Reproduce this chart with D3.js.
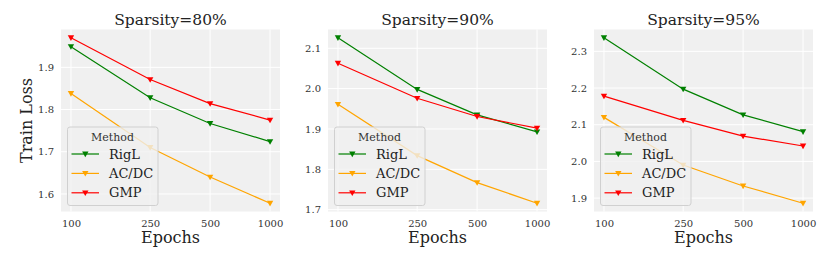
<!DOCTYPE html>
<html>
<head>
<meta charset="utf-8">
<script src="https://cdn.jsdelivr.net/npm/d3@7"></script>
<style>
  body { margin: 0; background: #fff; }
  text { font-family: "DejaVu Serif", serif; }
</style>
</head>
<body>
<svg width="830" height="260"></svg>
<script>
const epochs = [100, 250, 500, 1000];
const methods = ["RigL", "AC/DC", "GMP"];
const colors = { "RigL": "#008000", "AC/DC": "#ffa500", "GMP": "#ff0000" };

const titles = ["Sparsity=80%", "Sparsity=90%", "Sparsity=95%"];

// train loss per panel, per method
const loss80 = {
  "RigL": [1.949, 1.828, 1.767, 1.724],
  "AC/DC": [1.838, 1.710, 1.640, 1.578],
  "GMP": [1.970, 1.871, 1.814, 1.775]
};
const loss90 = {
  "RigL": [2.126, 1.998, 1.935, 1.893],
  "AC/DC": [1.961, 1.834, 1.767, 1.716],
  "GMP": [2.063, 1.976, 1.931, 1.902]
};
const loss95 = {
  "RigL": [2.337, 2.197, 2.127, 2.081],
  "AC/DC": [2.120, 1.990, 1.933, 1.886],
  "GMP": [2.178, 2.112, 2.069, 2.042]
};
const yTicks = [
  [1.6, 1.7, 1.8, 1.9],
  [1.7, 1.8, 1.9, 2.0, 2.1],
  [1.9, 2.0, 2.1, 2.2, 2.3]
];
const panels = [loss80, loss90, loss95];

const svg = d3.select("svg");
const lefts = [61, 328, 594];
const plotW = 219;
const plotTop = 29.5;
const plotH = 182;

const tri = "M-3.2,-2.4L3.2,-2.4L0,3.2Z";

panels.forEach((data, i) => {
  const g = svg.append("g").attr("transform", `translate(${lefts[i]},${plotTop})`);

  const x = d3.scaleLog()
    .domain([Math.pow(10, 1.95), Math.pow(10, 3.05)])
    .range([0, plotW]);

  const all = methods.flatMap((m) => data[m]);
  const [lo, hi] = d3.extent(all);
  const pad = (hi - lo) * 0.05;
  const y = d3.scaleLinear().domain([lo - pad, hi + pad]).range([plotH, 0]);

  g.append("rect")
    .attr("width", plotW)
    .attr("height", plotH)
    .attr("fill", "#f0f0f0");

  // grid
  g.append("g").selectAll("line")
    .data(epochs)
    .join("line")
    .attr("x1", (d) => x(d)).attr("x2", (d) => x(d))
    .attr("y1", 0).attr("y2", plotH)
    .attr("stroke", "#fff").attr("stroke-width", 1);
  g.append("g").selectAll("line")
    .data(yTicks[i])
    .join("line")
    .attr("x1", 0).attr("x2", plotW)
    .attr("y1", (d) => y(d)).attr("y2", (d) => y(d))
    .attr("stroke", "#fff").attr("stroke-width", 1);

  // axes (labels only)
  const xAxis = g.append("g")
    .attr("transform", `translate(0,${plotH})`)
    .call(d3.axisBottom(x).tickValues(epochs).tickFormat(d3.format("d")).tickSize(0).tickPadding(8));
  const yAxis = g.append("g")
    .call(d3.axisLeft(y).tickValues(yTicks[i]).tickFormat(d3.format(".1f")).tickSize(0).tickPadding(7));
  [xAxis, yAxis].forEach((a) => {
    a.select(".domain").remove();
    a.selectAll("text")
      .attr("font-family", "DejaVu Serif")
      .attr("font-size", 10)
      .attr("fill", "#333");
  });

  const line = d3.line()
    .x((d, j) => x(epochs[j]))
    .y((d) => y(d));

  methods.forEach((m) => {
    g.append("path")
      .datum(data[m])
      .attr("d", line)
      .attr("fill", "none")
      .attr("stroke", colors[m])
      .attr("stroke-width", 1.2);
    g.append("g").selectAll("path")
      .data(data[m])
      .join("path")
      .attr("transform", (d, j) => `translate(${x(epochs[j])},${y(d)})`)
      .attr("d", tri)
      .attr("fill", colors[m]);
  });

  // legend
  const lg = g.append("g").attr("transform", `translate(6.5,${plotH - 84.5})`);
  lg.append("rect")
    .attr("width", 90.5).attr("height", 78.5)
    .attr("rx", 2.5)
    .attr("fill", "#f0f0f0").attr("fill-opacity", 0.8)
    .attr("stroke", "#d0d0d0").attr("stroke-width", 1);
  lg.append("text")
    .attr("x", 45).attr("y", 13.5)
    .attr("text-anchor", "middle")
    .attr("font-size", 11)
    .attr("fill", "#333")
    .text("Method");
  methods.forEach((m, k) => {
    const ly = 27 + k * 19.4;
    lg.append("line")
      .attr("x1", 4).attr("x2", 31.5)
      .attr("y1", ly).attr("y2", ly)
      .attr("stroke", colors[m]).attr("stroke-width", 1.2);
    lg.append("path")
      .attr("transform", `translate(17.8,${ly})`)
      .attr("d", tri)
      .attr("fill", colors[m]);
    lg.append("text")
      .attr("x", 41.5).attr("y", ly + 4.5)
      .attr("font-size", 13)
      .attr("fill", "#222")
      .text(m);
  });

  g.append("text")
    .attr("x", plotW / 2).attr("y", -4.5)
    .attr("text-anchor", "middle")
    .attr("font-size", 15.5)
    .attr("fill", "#222")
    .text(titles[i]);

  g.append("text")
    .attr("x", plotW / 2).attr("y", plotH + 31)
    .attr("text-anchor", "middle")
    .attr("font-size", 16)
    .attr("fill", "#222")
    .text("Epochs");

  if (i === 0) {
    g.append("text")
      .attr("transform", `translate(${-29},${plotH / 2}) rotate(-90)`)
      .attr("text-anchor", "middle")
      .attr("font-size", 16)
      .attr("fill", "#222")
      .text("Train Loss");
  }
});
</script>
</body>
</html>
